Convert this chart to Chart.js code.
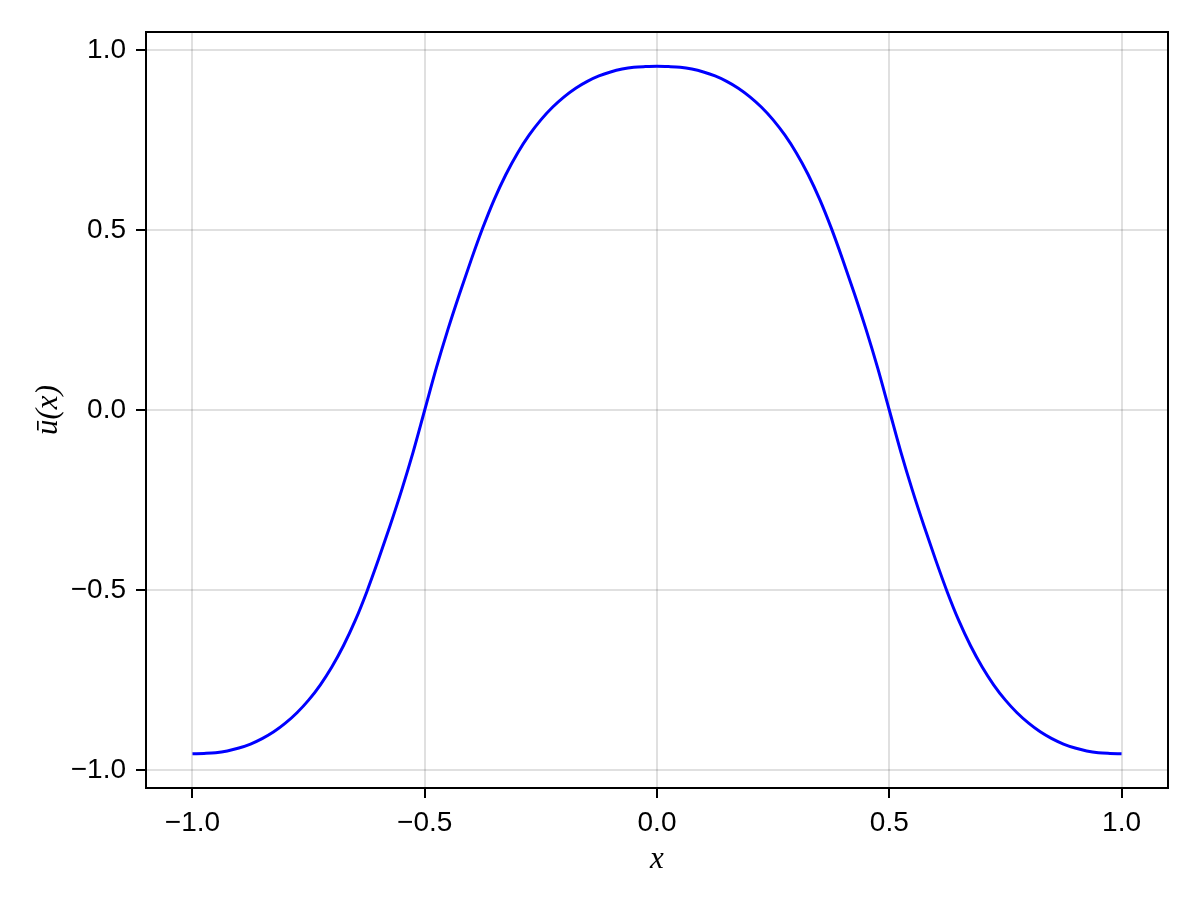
<!DOCTYPE html>
<html>
<head>
<meta charset="utf-8">
<title>u profile</title>
<script src="https://cdn.jsdelivr.net/npm/chart.js@4.4.1/dist/chart.umd.min.js"></script>
<style>
  html, body { margin: 0; padding: 0; background: #ffffff; }
  #wrap { width: 1200px; height: 900px; }
</style>
</head>
<body>
<div id="wrap"><canvas id="chart-u" width="1200" height="900"></canvas></div>
<script>
// valores (x de -1 a 1 cada 0.025)
const xValues = [
  -1.000, -0.975, -0.950, -0.925, -0.900, -0.875, -0.850, -0.825, -0.800, -0.775,
  -0.750, -0.725, -0.700, -0.675, -0.650, -0.625, -0.600, -0.575, -0.550, -0.525,
  -0.500, -0.475, -0.450, -0.425, -0.400, -0.375, -0.350, -0.325, -0.300, -0.275,
  -0.250, -0.225, -0.200, -0.175, -0.150, -0.125, -0.100, -0.075, -0.050, -0.025,
   0.000,
   0.025,  0.050,  0.075,  0.100,  0.125,  0.150,  0.175,  0.200,  0.225,  0.250,
   0.275,  0.300,  0.325,  0.350,  0.375,  0.400,  0.425,  0.450,  0.475,  0.500,
   0.525,  0.550,  0.575,  0.600,  0.625,  0.650,  0.675,  0.700,  0.725,  0.750,
   0.775,  0.800,  0.825,  0.850,  0.875,  0.900,  0.925,  0.950,  0.975,  1.000
];
const uValues = [
  -0.955, -0.954, -0.952, -0.947, -0.939, -0.928, -0.913, -0.894, -0.870, -0.841,
  -0.806, -0.764, -0.714, -0.655, -0.586, -0.506, -0.417, -0.323, -0.224, -0.117,
   0.000,  0.117,  0.224,  0.323,  0.417,  0.506,  0.586,  0.655,  0.714,  0.764,
   0.806,  0.841,  0.870,  0.894,  0.913,  0.928,  0.939,  0.947,  0.952,  0.954,
   0.955,
   0.954,  0.952,  0.947,  0.939,  0.928,  0.913,  0.894,  0.870,  0.841,  0.806,
   0.764,  0.714,  0.655,  0.586,  0.506,  0.417,  0.323,  0.224,  0.117,  0.000,
  -0.117, -0.224, -0.323, -0.417, -0.506, -0.586, -0.655, -0.714, -0.764, -0.806,
  -0.841, -0.870, -0.894, -0.913, -0.928, -0.939, -0.947, -0.952, -0.954, -0.955
];
const xTicks = [-1.0, -0.5, 0.0, 0.5, 1.0];
const yTicks = [-1.0, -0.5, 0.0, 0.5, 1.0];

const tickFont = { family: '"Liberation Sans", Arial, sans-serif', size: 28 };
const mathFont = { family: '"Liberation Serif", "Times New Roman", serif', size: 31, style: 'italic' };

function fmt(v) {
  return v.toFixed(1).replace('-', '\u2212');
}

// marco completo alrededor del area
const framePlugin = {
  id: 'frame',
  afterDraw(chart) {
    const { ctx, chartArea: a } = chart;
    ctx.save();
    ctx.strokeStyle = '#000000';
    ctx.lineWidth = 2;
    ctx.strokeRect(a.left, a.top, a.right - a.left, a.bottom - a.top);
    ctx.restore();
  }
};

const ctx = document.getElementById('chart-u').getContext('2d');
new Chart(ctx, {
  type: 'line',
  data: {
    datasets: [{
      data: xValues.map((x, i) => ({ x: x, y: uValues[i] })),
      borderColor: '#0000ff',
      borderWidth: 3,
      pointRadius: 0,
      fill: false,
      cubicInterpolationMode: 'monotone'
    }]
  },
  options: {
    responsive: false,
    animation: false,
    devicePixelRatio: 1,
    layout: { padding: { left: 0, right: 32, top: 32, bottom: 0 } },
    plugins: { legend: { display: false }, tooltip: { enabled: false } },
    scales: {
      x: {
        type: 'linear',
        min: -1.1,
        max: 1.1,
        afterBuildTicks: s => { s.ticks = xTicks.map(v => ({ value: v })); },
        afterFit: s => { s.height = 112; },
        grid: { color: 'rgba(0,0,0,0.12)', lineWidth: 2, tickLength: 10, tickColor: '#000000', tickWidth: 2 },
        border: { display: false },
        ticks: { font: tickFont, color: '#000000', padding: 8, maxRotation: 0, callback: v => fmt(v) },
        title: { display: true, text: 'x', font: mathFont, color: '#000000', padding: { top: 0, bottom: 22 } }
      },
      y: {
        type: 'linear',
        min: -1.05,
        max: 1.05,
        afterBuildTicks: s => { s.ticks = yTicks.map(v => ({ value: v })); },
        afterFit: s => { s.width = 146; },
        grid: { color: 'rgba(0,0,0,0.12)', lineWidth: 2, tickLength: 10, tickColor: '#000000', tickWidth: 2 },
        border: { display: false },
        ticks: { font: tickFont, color: '#000000', padding: 10, callback: v => fmt(v) },
        title: { display: true, text: '\u016b(x)', font: mathFont, color: '#000000', padding: { top: 30, bottom: 0 } }
      }
    }
  },
  plugins: [framePlugin]
});
</script>
</body>
</html>
